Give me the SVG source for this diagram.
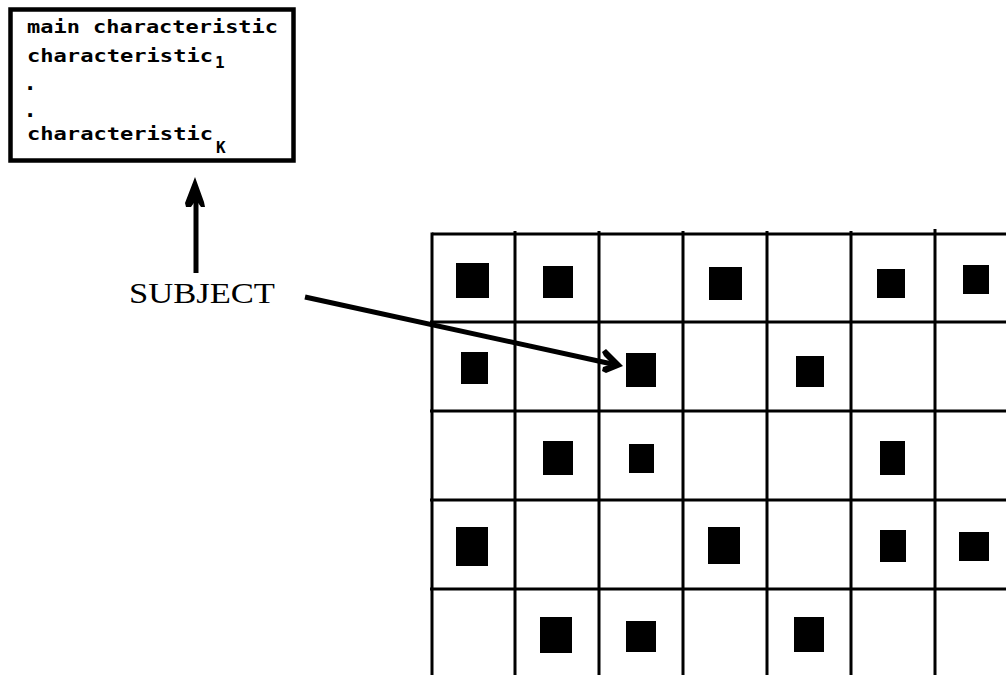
<svg xmlns="http://www.w3.org/2000/svg" width="1006" height="675" viewBox="0 0 1006 675">
  <style>
    .box { fill: #fff; stroke: #000; stroke-width: 4.5; }
    .mono { font-family: "DejaVu Sans Mono", "Liberation Mono", monospace; font-weight: bold; font-size: 17.5px; fill: #000; }
    .dot { font-family: "DejaVu Sans Mono", "Liberation Mono", monospace; font-weight: bold; font-size: 22px; fill: #000; }
    .sub { font-family: "DejaVu Sans Mono", "Liberation Mono", monospace; font-weight: bold; font-size: 16px; fill: #000; }
    .serif { font-family: "Liberation Serif", "DejaVu Serif", serif; font-size: 29px; fill: #000; }
    .grid line { stroke: #000; stroke-width: 3; }
    .cell { fill: #000; }
    .conn { stroke: #000; stroke-width: 5; fill: none; }
    .head { fill: #000; }
  </style>
  <rect width="1006" height="675" fill="#fff"/>

  <!-- characteristics card -->
  <g id="characteristics">
    <rect class="box" x="10.5" y="9.5" width="283" height="151"/>
    <text class="mono" x="27" y="33" textLength="251" lengthAdjust="spacingAndGlyphs">main characteristic</text>
    <text class="mono" x="27" y="62" textLength="186" lengthAdjust="spacingAndGlyphs">characteristic</text>
    <text class="sub" x="215" y="68">1</text>
    <text class="dot" x="23.5" y="90">.</text>
    <text class="dot" x="23.5" y="117">.</text>
    <text class="mono" x="27" y="140" textLength="186" lengthAdjust="spacingAndGlyphs">characteristic</text>
    <text class="sub" x="216" y="153">K</text>
  </g>

  <!-- subject label -->
  <g id="subject">
    <text class="serif" x="129" y="303" textLength="146" lengthAdjust="spacingAndGlyphs">SUBJECT</text>
  </g>

  <!-- population grid -->
  <g id="grid" class="grid">
    <line x1="432" y1="234" x2="1006" y2="234"/>
    <line x1="430" y1="322" x2="1006" y2="322"/>
    <line x1="430" y1="411" x2="1006" y2="411"/>
    <line x1="430" y1="500" x2="1006" y2="500"/>
    <line x1="430" y1="589" x2="1006" y2="589"/>
    <line x1="432" y1="232.5" x2="432" y2="675"/>
    <line x1="515" y1="231" x2="515" y2="675"/>
    <line x1="599" y1="231" x2="599" y2="675"/>
    <line x1="683" y1="231" x2="683" y2="675"/>
    <line x1="767" y1="231" x2="767" y2="675"/>
    <line x1="851" y1="231" x2="851" y2="675"/>
    <line x1="935" y1="229" x2="935" y2="675"/>
  </g>

  <!-- occupied cells -->
  <g id="cells">
    <rect class="cell" x="456" y="263" width="33" height="35"/>
    <rect class="cell" x="543" y="266" width="30" height="32"/>
    <rect class="cell" x="709" y="267" width="33" height="33"/>
    <rect class="cell" x="877" y="269" width="28" height="29"/>
    <rect class="cell" x="963" y="265" width="26" height="29"/>

    <rect class="cell" x="461" y="352" width="27" height="32"/>
    <rect class="cell" x="626" y="353" width="30" height="34"/>
    <rect class="cell" x="796" y="356" width="28" height="31"/>

    <rect class="cell" x="543" y="441" width="30" height="34"/>
    <rect class="cell" x="629" y="444" width="25" height="29"/>
    <rect class="cell" x="880" y="441" width="25" height="34"/>

    <rect class="cell" x="456" y="527" width="32" height="39"/>
    <rect class="cell" x="708" y="527" width="32" height="37"/>
    <rect class="cell" x="880" y="530" width="26" height="32"/>
    <rect class="cell" x="959" y="532" width="30" height="29"/>

    <rect class="cell" x="540" y="617" width="32" height="36"/>
    <rect class="cell" x="626" y="621" width="30" height="31"/>
    <rect class="cell" x="794" y="617" width="30" height="35"/>
  </g>

  <!-- connectors -->
  <g id="connectors">
    <line class="conn" x1="196" y1="273" x2="196" y2="195"/>
    <path class="head" d="M195,177 L185,203 L186,207 L191,207 L196,200 L201,207 L205,207 L204,202 Z"/>
    <line class="conn" x1="305" y1="297" x2="612" y2="364"/>
    <path class="head" d="M623,366 L606,349 L602,352 L604,356 L612,364 L603,367 L602,371 L606,373 Z"/>
  </g>
</svg>
